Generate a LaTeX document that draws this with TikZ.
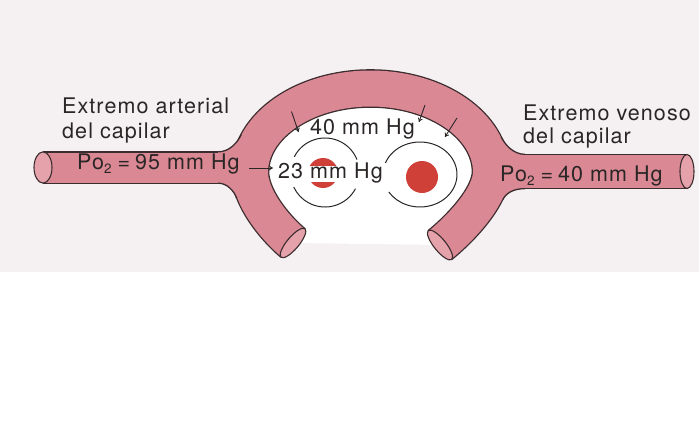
\documentclass[tikz,border=0pt]{standalone}
\usepackage{fontspec}
\setmainfont{TeX Gyre Heros}
\newfontfamily\labfont[LetterSpace=5]{TeX Gyre Heros}
\usetikzlibrary{arrows.meta}

\definecolor{tint}{HTML}{F5F0F2}
\definecolor{tube}{HTML}{DA8894}
\definecolor{capc}{HTML}{E6A2AB}
\definecolor{ink}{HTML}{3B2C2E}
\definecolor{txt}{HTML}{2A2626}
\definecolor{cellred}{HTML}{CF4038}

\newcommand\subtwo{\raisebox{-4.5pt}{\fontsize{13.5}{13.5}\selectfont 2}}

\begin{document}
\begin{tikzpicture}[x=1pt,y=-1pt,
  lbl/.style={font=\labfont\fontsize{21.5}{25}\selectfont, text=txt, inner sep=0pt, anchor=base west},
  capface/.style={fill=capc, draw=ink, line width=1.1pt},
  fillet/.style={draw=ink, line width=1.3pt},
  cell/.style={draw=txt, line width=1pt},
  arr/.style={draw=txt, line width=0.9pt, -{To[length=4pt,width=5pt]}}]

\useasboundingbox (0,0) rectangle (699,423);
\fill[white] (0,0) rectangle (699,423);
\fill[tint] (0,0) rectangle (699,272);

% tissue enclosed by the capillary loop
\fill[white]
    (293,243) .. controls (274,227) and (250,197) .. (250,172)
    arc[start angle=180, end angle=360, x radius=120.5, y radius=83.5]
    .. controls (491,197) and (459.4,229.3) .. (440,245) -- cycle;

% capillary: outline pass, then body pass
\foreach \d/\c in {2.6/ink,0/tube}{
  \draw[\c, line width={(36+\d)*1pt}]
    (293,243) .. controls (274,227) and (250,197) .. (250,172)
    arc[start angle=180, end angle=360, x radius=120.5, y radius=83.5]
    .. controls (491,197) and (459.4,229.3) .. (440,245);
  \draw[\c, line width={(30+\d)*1pt}] (43,167.5) -- (250,167.5);
  \draw[\c, line width={(33+\d)*1pt}] (491,171.5) -- (687,171.5);
}

% rounded joints between the straight vessels and the loop
\fill[tube] (218,151.85) .. controls (230,151.85) and (237.7,142) .. (241.3,134.5)
  -- (252,134.5) -- (252,160) -- (218,160) -- cycle;
\draw[fillet] (218,151.85) .. controls (230,151.85) and (237.7,142) .. (241.3,134.5);

\fill[tube] (218,183.15) .. controls (227,183.15) and (233.8,190.6) .. (236.7,198.1)
  -- (250,198) -- (250,175) -- (218,175) -- cycle;
\draw[fillet] (218,183.15) .. controls (227,183.15) and (233.8,190.6) .. (236.7,198.1);

\fill[tube] (525,154.35) .. controls (513,154.35) and (504.8,144.2) .. (501.2,137)
  -- (490,137) -- (490,165) -- (525,165) -- cycle;
\draw[fillet] (525,154.35) .. controls (513,154.35) and (504.8,144.2) .. (501.2,137);

\fill[tube] (525,188.65) .. controls (514,188.65) and (506.2,192.6) .. (502.7,199.8)
  -- (490,200) -- (490,178) -- (525,178) -- cycle;
\draw[fillet] (525,188.65) .. controls (514,188.65) and (506.2,192.6) .. (502.7,199.8);

% cut ends of the vessels
\draw[capface] (43,167.5) ellipse [x radius=9pt, y radius=15.6pt];
\draw[capface] (687,171.5) ellipse [x radius=7pt, y radius=17pt];
\draw[capface, rotate around={-40:(293,243)}] (293,243) ellipse [x radius=6pt, y radius=18.6pt];
\draw[capface, rotate around={39:(440,245)}] (440,245) ellipse [x radius=6pt, y radius=18.6pt];

% tissue cells with their nuclei
\fill[cellred] (323,173) circle [radius=15];
\fill[white] (306,165.5) rectangle (341,181.5);
\draw[cell] (325,172.5) ++(207:34.5) arc[start angle=207, end angle=338, radius=34.5];
\draw[cell] (325,172.5) ++(28:34.5) arc[start angle=28, end angle=155, radius=34.5];

\fill[cellred] (422,177) circle [radius=16];
\draw[cell] (420,174.5) ++(200.7:37 and 32.5)
  arc[start angle=200.7, end angle=507.5, x radius=37, y radius=32.5];

% labels
\node[lbl] (lblArt1) at (62,113) {Extremo arterial};
\node[lbl] (lblArt2) at (62,138) {del capilar};
\node[lbl] (lblVen1) at (523,120) {Extremo venoso};
\node[lbl] (lblVen2) at (523,143) {del capilar};
\node[lbl] (poL) at (77,169) {Po\subtwo\hspace{6pt}=\hspace{5pt}95 mm Hg};
\node[lbl] (poR) at (500,181) {Po\subtwo\hspace{6pt}=\hspace{5pt}40 mm Hg};
\node[lbl] (t23) at (278,178) {23 mm Hg};
\node[lbl] (t40) at (310,134) {40 mm Hg};

% diffusion arrows
\coordinate (a1s) at (249,168);
\coordinate (a1e) at (273,168);
\coordinate (a2s) at (291.5,111.5);
\coordinate (a2e) at (298.5,132);
\coordinate (a3s) at (425,105);
\coordinate (a3e) at (419,122);
\coordinate (a4s) at (457,118);
\coordinate (a4e) at (445,137);
\draw[arr] (a1s) -- (a1e);
\draw[arr] (a2s) -- (a2e);
\draw[arr] (a3s) -- (a3e);
\draw[arr] (a4s) -- (a4e);
\end{tikzpicture}
\end{document}
